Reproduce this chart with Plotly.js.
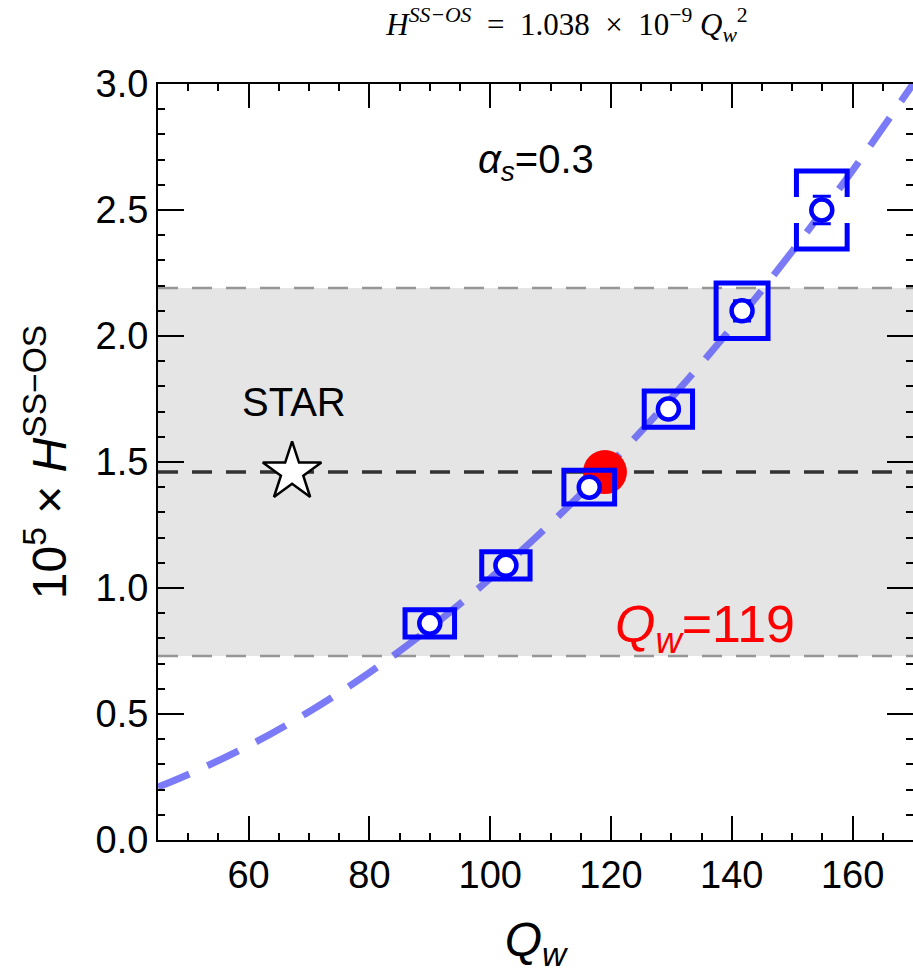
<!DOCTYPE html>
<html>
<head>
<meta charset="utf-8">
<script src="https://cdn.plot.ly/plotly-3.0.1.min.js"></script>
<style>html,body{margin:0;padding:0;background:#fff;}#chart{width:913px;height:973px;}</style>
</head>
<body>
<div id="chart"></div>
<script>
// Data points (Q_w, 10^5 x H^SS-OS)
const qw        = [90.0, 102.6, 116.4, 129.5, 141.7, 154.9];
const hVal      = [0.86, 1.09, 1.40, 1.71, 2.10, 2.50];
const hStatErr  = [0.02, 0.02, 0.02, 0.03, 0.04, 0.055];
const boxHalfX  = [4.1, 4.0, 4.2, 4.0, 4.3, 4.2];
const boxHalfY  = [0.054, 0.054, 0.067, 0.072, 0.11, 0.155];
const bracketBox = [false, false, false, false, false, true];

// Fit curve H = 1.038e-9 Q_w^2 (x1e5)
const curveQ = [45, 50, 60, 70, 80, 90, 100, 110, 120, 130, 140, 150, 160, 170];
const curveH = [0.21, 0.26, 0.374, 0.509, 0.664, 0.841, 1.038, 1.256, 1.495, 1.754, 2.034, 2.336, 2.657, 3.00];

// STAR measurement and band
const starQ = [67.2];
const starH = [1.46];
const starLow = 0.73;
const starHigh = 2.19;

// Extracted Q_w point
const redQ = [119];
const redH = [1.46];

const blue = 'rgb(0,0,255)';

const traces = [
  {
    x: curveQ, y: curveH, type: 'scatter', mode: 'lines',
    line: {color: 'rgba(90,90,245,0.8)', width: 7, dash: '34px,20px', shape: 'spline'},
    hoverinfo: 'skip', showlegend: false
  },
  {
    x: redQ, y: redH, type: 'scatter', mode: 'markers',
    marker: {color: 'rgb(255,0,0)', size: 44, line: {width: 0}},
    showlegend: false
  },
  {
    x: qw, y: hVal, type: 'scatter', mode: 'markers',
    error_y: {type: 'data', array: hStatErr, visible: true, color: blue, thickness: 3, width: 9},
    marker: {symbol: 'circle', color: 'white', size: 21, line: {color: blue, width: 4.5}},
    showlegend: false
  },
  {
    x: starQ, y: starH, type: 'scatter', mode: 'markers',
    marker: {symbol: 'star', color: 'white', size: 44, line: {color: 'black', width: 2.5}},
    showlegend: false
  }
];

const shapes = [
  {type: 'rect', xref: 'paper', yref: 'y', x0: 0, x1: 1, y0: starLow, y1: starHigh,
   fillcolor: 'rgb(229,229,229)', line: {width: 0}, layer: 'below'},
  {type: 'line', xref: 'paper', yref: 'y', x0: 0, x1: 1, y0: starLow, y1: starLow,
   line: {color: 'rgb(150,150,150)', width: 2.5, dash: '20px,14px'}, layer: 'below'},
  {type: 'line', xref: 'paper', yref: 'y', x0: 0, x1: 1, y0: starHigh, y1: starHigh,
   line: {color: 'rgb(150,150,150)', width: 2.5, dash: '20px,14px'}, layer: 'below'},
  {type: 'line', xref: 'paper', yref: 'y', x0: 0, x1: 1, y0: starH[0], y1: starH[0],
   line: {color: 'rgb(50,50,50)', width: 3.5, dash: '20px,14px'}, layer: 'below'}
];

for (let i = 0; i < qw.length; i++) {
  const x0 = qw[i] - boxHalfX[i], x1 = qw[i] + boxHalfX[i];
  const y0 = hVal[i] - boxHalfY[i], y1 = hVal[i] + boxHalfY[i];
  if (bracketBox[i]) {
    const g = boxHalfY[i] * 0.33;
    const yt = hVal[i] + g, yb = hVal[i] - g;
    shapes.push({type: 'path', xref: 'x', yref: 'y',
      path: `M ${x0},${yt} L ${x0},${y1} L ${x1},${y1} L ${x1},${yt}`,
      line: {color: blue, width: 5}, layer: 'above'});
    shapes.push({type: 'path', xref: 'x', yref: 'y',
      path: `M ${x0},${yb} L ${x0},${y0} L ${x1},${y0} L ${x1},${yb}`,
      line: {color: blue, width: 5}, layer: 'above'});
  } else {
    shapes.push({type: 'rect', xref: 'x', yref: 'y', x0: x0, x1: x1, y0: y0, y1: y1,
      line: {color: blue, width: 5}, fillcolor: 'rgba(0,0,0,0)', layer: 'above'});
  }
}

const font = 'Liberation Sans, Arial, Helvetica, sans-serif';
const sp = '\u2002';

const layout = {
  width: 913, height: 973,
  margin: {l: 158, r: 0, t: 84, b: 133},
  paper_bgcolor: 'white', plot_bgcolor: 'white',
  font: {family: font, color: 'black', size: 38},
  title: {
    text: '<i>H</i><sup><i>SS−OS</i></sup>' + sp + '=' + sp + '1.038' + sp + '×' + sp + '10<sup>−9</sup> <i>Q</i><sub><i>w</i></sub><sup>2</sup>',
    font: {family: 'Liberation Serif, DejaVu Serif, serif', size: 31, color: 'black'},
    x: 0.621, xanchor: 'center', y: 0.975, yanchor: 'middle'
  },
  xaxis: {
    range: [45, 170], showgrid: false, zeroline: false,
    showline: true, linecolor: 'black', linewidth: 2, mirror: 'ticks',
    ticks: 'inside', ticklen: 24, tickwidth: 2, tickcolor: 'black',
    tickvals: [60, 80, 100, 120, 140, 160],
    minor: {dtick: 5, tick0: 0, ticks: 'inside', ticklen: 7, tickwidth: 2, tickcolor: 'black', showgrid: false},
    tickfont: {family: font, size: 38, color: 'black'},
    title: {text: '<i>Q</i><sub><i>w</i></sub>', font: {family: font, size: 48, color: 'black'}, standoff: 28}
  },
  yaxis: {
    range: [0, 3], showgrid: false, zeroline: false,
    showline: true, linecolor: 'black', linewidth: 2, mirror: 'ticks',
    ticks: 'inside', ticklen: 26, tickwidth: 2, tickcolor: 'black',
    tickvals: [0, 0.5, 1.0, 1.5, 2.0, 2.5, 3.0], tickformat: '.1f',
    minor: {dtick: 0.1, tick0: 0, ticks: 'inside', ticklen: 7, tickwidth: 2, tickcolor: 'black', showgrid: false},
    tickfont: {family: font, size: 38, color: 'black'},
    title: {text: '10<sup>5</sup> × <i>H</i><sup>SS−OS</sup>', font: {family: font, size: 48, color: 'black'}, standoff: 14}
  },
  shapes: shapes,
  annotations: [
    {x: 107.6, y: 2.69, xref: 'x', yref: 'y', showarrow: false,
     text: '<i>α</i><sub><i>s</i></sub>=0.3', font: {family: font, size: 40, color: 'black'}},
    {x: 67.5, y: 1.74, xref: 'x', yref: 'y', showarrow: false,
     text: 'STAR', font: {family: font, size: 40, color: 'black'}},
    {x: 135.6, y: 0.84, xref: 'x', yref: 'y', showarrow: false,
     text: '<i>Q</i><sub><i>w</i></sub>=' + redQ[0], font: {family: font, size: 52, color: 'rgb(255,0,0)'}}
  ]
};

Plotly.newPlot('chart', traces, layout, {displayModeBar: false, staticPlot: true});
</script>
</body>
</html>
